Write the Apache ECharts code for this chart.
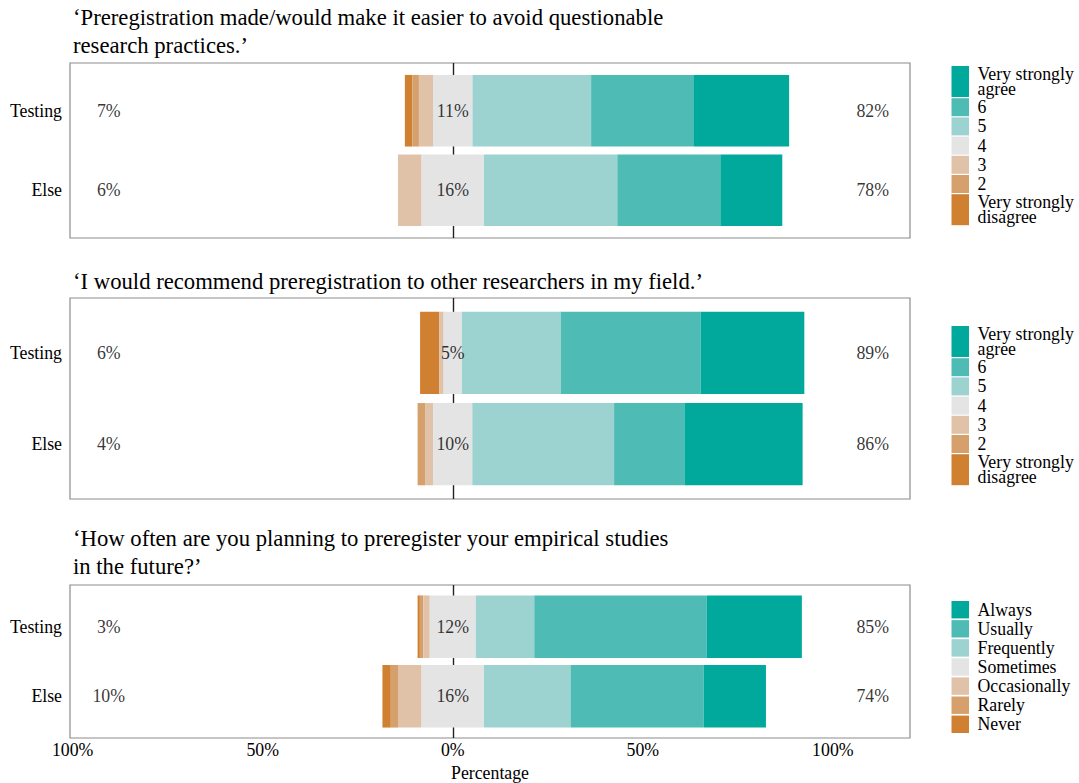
<!DOCTYPE html>
<html><head><meta charset="utf-8">
<script src="https://cdn.jsdelivr.net/npm/echarts@6/dist/echarts.min.js"></script>
<style>html,body{margin:0;padding:0;background:#fff}#c{width:1079px;height:783px}</style>
</head><body><div id="c"></div>
<script>
// ---------- data ----------
const rows = ['Testing', 'Else'];
const agreeLevels = ['Very strongly disagree', '2', '3', '4', '5', '6', 'Very strongly agree'];
const freqLevels = ['Never', 'Rarely', 'Occasionally', 'Sometimes', 'Frequently', 'Usually', 'Always'];
const titles = [
  '\u2018Preregistration made/would make it easier to avoid questionable\nresearch practices.\u2019',
  '\u2018I would recommend preregistration to other researchers in my field.\u2019',
  '\u2018How often are you planning to preregister your empirical studies\nin the future?\u2019'
];
// percentages per level (low -> high), per row
const q1Testing = [2.0, 1.7, 3.7, 10.4, 31.2, 26.9, 25.2];
const q1Else    = [0, 0, 6.2, 16.4, 35.1, 27.1, 16.3];
const q2Testing = [5.0, 0, 1.2, 4.8, 26.0, 36.8, 27.3];
const q2Else    = [0, 2.1, 2.0, 10.3, 37.3, 18.5, 31.1];
const q3Testing = [0.6, 0.9, 1.7, 12.1, 15.4, 45.4, 25.0];
const q3Else    = [2.2, 1.9, 6.2, 16.4, 22.8, 35.0, 16.4];
// printed summary labels (low / neutral / high), per row
const q1Low = ['7%', '6%'], q1Mid = ['11%', '16%'], q1High = ['82%', '78%'];
const q2Low = ['6%', '4%'], q2Mid = ['5%', '10%'], q2High = ['89%', '86%'];
const q3Low = ['3%', '10%'], q3Mid = ['12%', '16%'], q3High = ['85%', '74%'];
const xTicks = [-100, -50, 0, 50, 100];
const colors = ['#D08031', '#D6A06C', '#DFC2A7', '#E4E4E4', '#9CD2CF', '#4EBBB4', '#01A89C'];

// ---------- layout / style ----------
const FONT = 'Liberation Serif';
const FS = 17.8;
const panels = [
  {levels: agreeLevels, data: [q1Testing, q1Else], low: q1Low, mid: q1Mid, high: q1High, top: 63, height: 175, titleTop: 3, legTop: 66},
  {levels: agreeLevels, data: [q2Testing, q2Else], low: q2Low, mid: q2Mid, high: q2High, top: 298, height: 201, titleTop: 267, legTop: 326},
  {levels: freqLevels, data: [q3Testing, q3Else], low: q3Low, mid: q3Mid, high: q3High, top: 585, height: 153, titleTop: 524, legTop: 601}
];
const X_MIN = -100.7, X_MAX = 120.3, LOW_POS = -90.5, HIGH_POS = 110.5;

function segments(v) {
  const segs = new Array(7);
  const h = v[3] / 2;
  segs[3] = [-h, h];
  let c = -h;
  for (let i = 2; i >= 0; i--) { segs[i] = [c - v[i], c]; c -= v[i]; }
  c = h;
  for (let i = 4; i <= 6; i++) { segs[i] = [c, c + v[i]]; c += v[i]; }
  return segs;
}

function renderBar(params, api) {
  const s = api.value(0), e = api.value(1), r = api.value(2);
  const p0 = api.coord([s, r - 0.45]);
  const p1 = api.coord([e, r + 0.45]);
  return {
    type: 'rect',
    shape: {x: Math.min(p0[0], p1[0]), y: Math.min(p0[1], p1[1]),
            width: Math.abs(p1[0] - p0[0]), height: Math.abs(p1[1] - p0[1])},
    style: {fill: api.visual('color')}
  };
}

const grid = [], xAxis = [], yAxis = [], series = [], title = [], graphic = [];
panels.forEach((p, k) => {
  grid.push({left: 70, right: 169, top: p.top, height: p.height, show: true,
             borderColor: '#8c8c8c', borderWidth: 1.2, backgroundColor: '#fff'});
  xAxis.push({type: 'value', gridIndex: k, min: X_MIN, max: X_MAX,
    axisLine: {show: false}, axisTick: {show: false}, splitLine: {show: false},
    axisLabel: k === 2 ? {show: true, customValues: xTicks, formatter: v => Math.abs(v) + '%',
      margin: 3, fontFamily: FONT, fontSize: FS, color: '#000'} : {show: false},
    name: k === 2 ? 'Percentage' : '', nameLocation: 'middle', nameGap: 26,
    nameTextStyle: {fontFamily: FONT, fontSize: FS, color: '#000'}});
  yAxis.push({type: 'value', gridIndex: k, min: 0.4, max: 2.6, inverse: true,
    axisLine: {show: false}, axisTick: {show: false}, splitLine: {show: false},
    axisLabel: {show: true, customValues: [1, 2], formatter: v => rows[Math.round(v) - 1],
      margin: 8, fontFamily: FONT, fontSize: FS, color: '#000'}});
  title.push({text: titles[k], left: 73, top: p.titleTop, padding: 0,
    textStyle: {fontFamily: FONT, fontSize: 22.7, fontWeight: 'normal', lineHeight: 28, color: '#000'}});

  // zero reference line (behind bars)
  series.push({type: 'line', xAxisIndex: k, yAxisIndex: k, data: [], z: 1, silent: true,
    markLine: {z: 1, symbol: ['none', 'none'], silent: true, label: {show: false},
      lineStyle: {color: '#222', width: 1.4, type: 'solid'}, data: [{xAxis: 0}]}});

  const segsByRow = p.data.map(segments);
  p.levels.forEach((lev, i) => {
    series.push({type: 'custom', name: lev, xAxisIndex: k, yAxisIndex: k, z: 3,
      itemStyle: {color: colors[i]}, renderItem: renderBar,
      encode: {x: [0, 1], y: 2},
      data: segsByRow.map((sg, r) => [sg[i][0], sg[i][1], r + 1])});
  });

  const lbl = [];
  rows.forEach((rname, r) => {
    lbl.push([LOW_POS, r + 1, p.low[r]]);
    lbl.push([0, r + 1, p.mid[r]]);
    lbl.push([HIGH_POS, r + 1, p.high[r]]);
  });
  series.push({type: 'scatter', xAxisIndex: k, yAxisIndex: k, z: 6, silent: true,
    symbolSize: 1, itemStyle: {color: 'rgba(0,0,0,0)'}, data: lbl,
    label: {show: true, position: 'inside', formatter: q => q.data[2],
      fontFamily: FONT, fontSize: FS, color: '#000'}});

  // legend (highest level on top)
  let y = p.legTop;
  for (let i = 6; i >= 0; i--) {
    const txt = p.levels[i].replace('Very strongly ', 'Very strongly\n');
    const two = txt.indexOf('\n') >= 0;
    const h = two ? 31 : (k === 2 ? 17.4 : 18);
    graphic.push({type: 'rect', left: 951.5, top: y, shape: {width: 17.5, height: h},
      style: {fill: colors[i]}, silent: true});
    graphic.push({type: 'text', x: 977.5, y: y + h / 2, silent: true,
      style: {text: txt, fontFamily: FONT, fontSize: FS, lineHeight: 15, fill: '#000',
        verticalAlign: 'middle', align: 'left'}});
    y += h + (k === 2 ? 1.7 : 1.2);
  }
});

const chart = echarts.init(document.getElementById('c'), null, {renderer: 'svg'});
chart.setOption({animation: false, backgroundColor: '#fff', title, grid, xAxis, yAxis, series, graphic});
</script></body></html>
